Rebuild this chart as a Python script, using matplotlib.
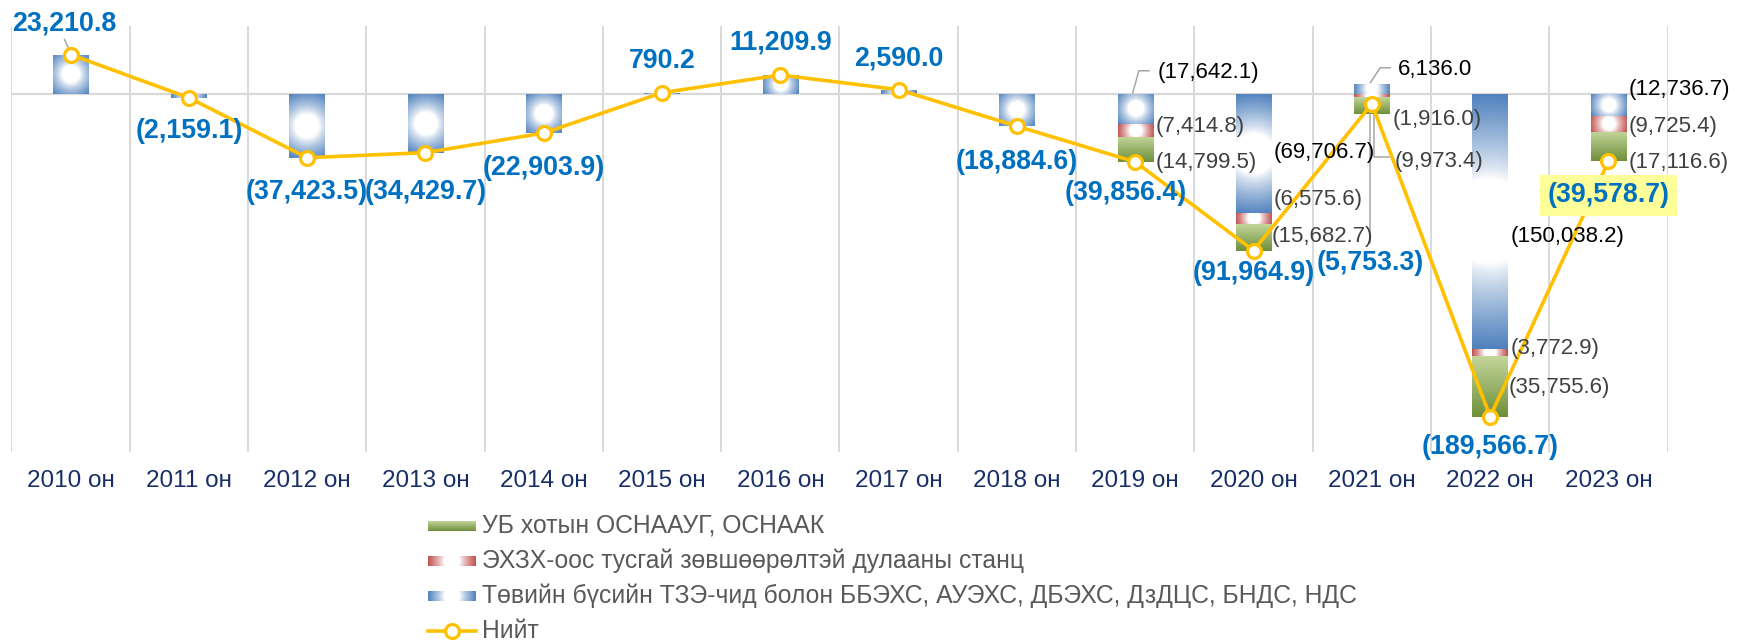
import numpy as np
import matplotlib
matplotlib.use("Agg")
import matplotlib.pyplot as plt
from matplotlib.colors import to_rgb
from matplotlib.lines import Line2D

plt.rcParams['font.family'] = ['Liberation Sans', 'DejaVu Sans']

# ---------------- data ----------------
years = ['2010 он', '2011 он', '2012 он', '2013 он', '2014 он', '2015 он', '2016 он',
         '2017 он', '2018 он', '2019 он', '2020 он', '2021 он', '2022 он', '2023 он']
remote_plants = [23210.8, -2159.1, -37423.5, -34429.7, -22903.9, 790.2, 11209.9,
                 2590.0, -18884.6, -17642.1, -69706.7, 6136.0, -150038.2, -12736.7]
erc_heat = [0, 0, 0, 0, 0, 0, 0, 0, 0, -7414.8, -6575.6, -1916.0, -3772.9, -9725.4]
ub_osnaaug = [0, 0, 0, 0, 0, 0, 0, 0, 0, -14799.5, -15682.7, -9973.4, -35755.6, -17116.6]
total = [23210.8, -2159.1, -37423.5, -34429.7, -22903.9, 790.2, 11209.9,
         2590.0, -18884.6, -39856.4, -91964.9, -5753.3, -189566.7, -39578.7]
legend_labels = ['УБ хотын ОСНААУГ, ОСНААК',
                 'ЭХЗХ-оос тусгай зөвшөөрөлтэй дулааны станц',
                 'Төвийн бүсийн ТЗЭ-чид болон ББЭХС, АУЭХС, ДБЭХС, ДзДЦС, БНДС, НДС',
                 'Нийт']

# ---------------- style ----------------
W, H = 1737, 644
BLUE = '#4F81BD'
RED = '#C0504D'
GREEN_TOP = '#C3D69B'
GREEN_BOT = '#6F8F3A'
YELLOW = '#FFC000'
LBL_BLUE = '#0070C0'
GRID = '#D9D9D9'

fig = plt.figure(figsize=(W / 100, H / 100), dpi=100)
ax = fig.add_axes([11.4 / W, (H - 452) / H, 1656.2 / W, 426 / H])
ax.set_xlim(-0.5, len(years) - 0.5)
ax.set_ylim(-210400, 40000)
for s in ax.spines.values():
    s.set_visible(False)
ax.set_yticks([])
ax.set_xticks(range(len(years)))
ax.set_xticklabels(years, fontsize=17.5, color='#172F66')
ax.tick_params(axis='x', length=0, pad=13)

for b in np.arange(-0.5, len(years), 1.0):
    ax.axvline(b, color=GRID, lw=1.4, zorder=0)
ax.axhline(0, color=GRID, lw=1.6, zorder=1)


def radial(wpx, hpx, col, n=96):
    u = np.linspace(-wpx / 2, wpx / 2, n)
    v = np.linspace(-hpx / 2, hpx / 2, n)
    U, V = np.meshgrid(u, v)
    R = np.sqrt(U ** 2 + V ** 2) / np.hypot(wpx / 2, hpx / 2)
    s = np.clip((R - 0.33) / 0.67, 0, 1)
    s = s ** 0.8
    c = np.array(to_rgb(col))
    img = (1 - s)[..., None] * np.ones(3) + s[..., None] * c
    return img


def vertical(col_top, col_bot, n=96):
    t = np.linspace(0, 1, n)[:, None, None]  # 0 bottom -> 1 top (origin lower)
    ct, cb = np.array(to_rgb(col_top)), np.array(to_rgb(col_bot))
    img = cb * (1 - t) + ct * t
    return np.repeat(img, 8, axis=1)


x = np.arange(len(years))
width = 0.3
pos_base = np.zeros(len(years))
neg_base = np.zeros(len(years))
series = [(remote_plants, 'blue'), (erc_heat, 'red'), (ub_osnaaug, 'green')]
seg_mid = {}
for vals, kind in series:
    vals = np.array(vals, dtype=float)
    bottoms = np.where(vals >= 0, pos_base, neg_base)
    bars = ax.bar(x, vals, width=width, bottom=bottoms, facecolor='none',
                  edgecolor='none', zorder=2)
    mids = []
    for i, rect in enumerate(bars):
        y0, y1 = sorted([bottoms[i], bottoms[i] + vals[i]])
        mids.append((y0 + y1) / 2)
        if vals[i] == 0:
            continue
        x0, x1 = x[i] - width / 2, x[i] + width / 2
        p0 = ax.transData.transform((x0, y0))
        p1 = ax.transData.transform((x1, y1))
        wpx, hpx = abs(p1[0] - p0[0]), abs(p1[1] - p0[1])
        if kind == 'blue':
            img = radial(wpx, hpx, BLUE)
        elif kind == 'red':
            img = radial(wpx, hpx, RED)
        else:
            img = vertical(GREEN_TOP, GREEN_BOT)
        im = ax.imshow(img, extent=[x0, x1, y0, y1], origin='lower', aspect='auto',
                       interpolation='bilinear', zorder=2)
        im.set_clip_path(rect)
    seg_mid[kind] = mids
    pos_base = pos_base + np.where(vals >= 0, vals, 0)
    neg_base = neg_base + np.where(vals < 0, vals, 0)

ax.set_xlim(-0.5, len(years) - 0.5)
ax.set_ylim(-210400, 40000)

ax.plot(x, total, color=YELLOW, lw=2.6, marker='o', ms=10, mfc='white', mec=YELLOW,
        mew=2.3, zorder=5, solid_joinstyle='round')


def fmt(v):
    s = f"{abs(v):,.1f}"
    return f"({s})" if v < 0 else s


def leader(xd, yd, rel_pts):
    a = ax.transData.transform((xd, yd))
    pts = np.array([[a[0] + dx, a[1] + dy] for dx, dy in rel_pts])
    dpts = ax.transData.inverted().transform(pts)
    ax.plot(dpts[:, 0], dpts[:, 1], color='#A6A6A6', lw=1.1, zorder=3)


# total labels (offsets in pixels from the marker)
total_off = [(-6, 31), (0, -33), (0, -34), (0, -39), (0, -35), (0, 32), (0, 32), (0, 31),
             (0, -36), (-9, -31), (0, -22), (-2, -159), (0, -30), (0, -34)]
for i, v in enumerate(total):
    dx, dy = total_off[i]
    kw = {}
    if i == len(total) - 1:
        kw['bbox'] = dict(boxstyle='square,pad=0.28', facecolor='#FFFF99', edgecolor='none')
    ax.annotate(fmt(v), xy=(i, v), xytext=(dx, dy), textcoords='offset pixels',
                ha='center', va='center', fontsize=19.3, fontweight='bold',
                color=LBL_BLUE, zorder=6, **kw)
leader(0, total[0], [(-6, 15), (0, 2)])
leader(11, total[11], [(-2, -6), (-2, -139)])

# component labels (offsets in pixels from category centre / segment middle)
comp_off = {
    'blue': {9: (22, 37), 10: (20, 0.6), 11: (26.4, 19.1), 12: (20, -15.2), 13: (20, 15.1)},
    'red': {9: (20, 3.6), 10: (20, 18.4), 11: (20.4, -24.1), 12: (20, 3.6), 13: (20, -2.8)},
    'green': {9: (20, -13.5), 10: (18, 0.3), 11: (22.4, -56), 12: (18, -1.8), 13: (20, -16)},
}
comp_vals = {'blue': remote_plants, 'red': erc_heat, 'green': ub_osnaaug}
for kind, offs in comp_off.items():
    col = '#000000' if kind == 'blue' else '#404040'
    for i, (dx, dy) in offs.items():
        ax.annotate(fmt(comp_vals[kind][i]), xy=(i, seg_mid[kind][i]), xytext=(dx, dy),
                    textcoords='offset pixels', ha='left', va='center', fontsize=16,
                    color=col, zorder=6)
leader(9, seg_mid['blue'][9], [(-2.5, 16.3), (3.6, 38.3), (13.8, 38.3)])
leader(11, seg_mid['blue'][11], [(-1.6, 6.1), (8.4, 21.1), (18.4, 21.1)])
leader(11, seg_mid['green'][11], [(2.4, -9), (2.4, -51), (16.9, -51)])

# ---------------- legend (manual) ----------------
leg_y = [526, 561, 596, 631]
px0, px1, ph = 428, 476, 10
imgs = [vertical(GREEN_TOP, GREEN_BOT), radial(px1 - px0, ph, RED), radial(px1 - px0, ph, BLUE)]
for k in range(3):
    lax = fig.add_axes([px0 / W, (H - leg_y[k] - ph / 2) / H, (px1 - px0) / W, ph / H])
    lax.imshow(imgs[k], aspect='auto', origin='lower', interpolation='bilinear')
    lax.set_axis_off()
yl = (H - leg_y[3]) / H
fig.add_artist(Line2D([px0 / W, px1 / W], [yl, yl], color=YELLOW, lw=2.6,
                      transform=fig.transFigure))
fig.add_artist(Line2D([(px0 + px1) / 2 / W], [yl], marker='o', ms=10, mfc='white',
                      mec=YELLOW, mew=2.3, transform=fig.transFigure))
for k, lab in enumerate(legend_labels):
    fig.text(482 / W, (H - leg_y[k]) / H, lab, ha='left', va='center', fontsize=17.8,
             color='#595959')

fig.savefig('out.png', dpi=100, facecolor='white')
